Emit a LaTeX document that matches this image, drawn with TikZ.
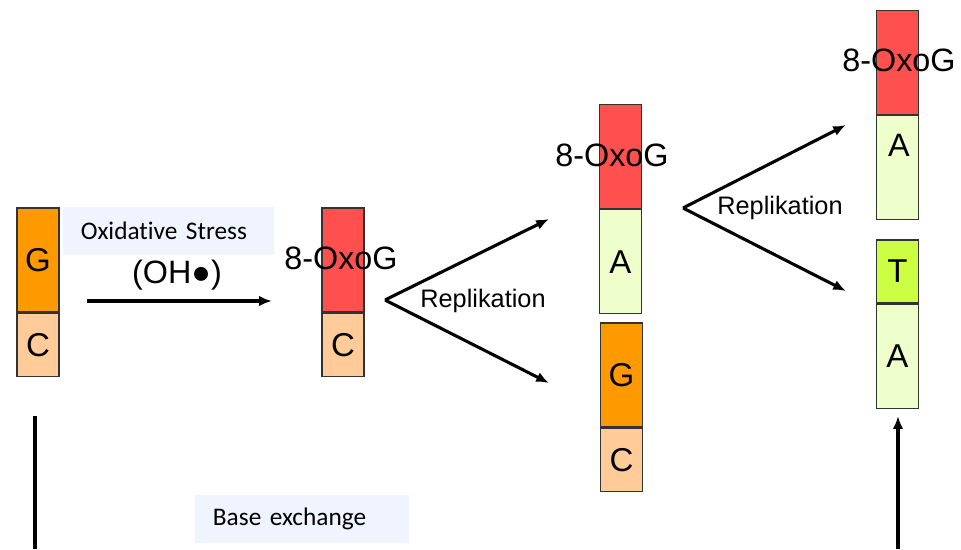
\documentclass[tikz,border=0pt]{standalone}
\usepackage{fontspec}
\setmainfont{Liberation Sans}
\newfontfamily\notefont[Ligatures=NoCommon]{Carlito}
\usetikzlibrary{arrows.meta,positioning}

\definecolor{gorange}{HTML}{FF9900}
\definecolor{corange}{HTML}{FFCC99}
\definecolor{oxored}{HTML}{FF5050}
\definecolor{agreen}{HTML}{EEFFCC}
\definecolor{tgreen}{HTML}{CCFF44}
\definecolor{notebg}{HTML}{F0F4FF}

\begin{document}
\begin{tikzpicture}[
                        x=0.025cm, y=-0.025cm,
                        >={Latex[length=0.32cm,width=0.26cm]},
                        base/.style={rectangle, draw=black!80, line width=0.8pt, minimum width=1.05cm, inner sep=0pt, font=\fontsize{23.5}{26}\selectfont},
                        tall/.style={base, minimum height=2.6cm, fill=#1},
                        short/.style={base, minimum height=1.575cm, fill=#1},
                        big/.style={font=\fontsize{23}{26}\selectfont, inner sep=0pt},
                        lab/.style={font=\fontsize{18}{20}\selectfont, inner sep=0pt},
                        note/.style={fill=notebg, inner xsep=0.45cm, inner ysep=0pt, minimum height=1.2cm, align=left, font=\notefont\fontsize{18}{21}\selectfont},
                        flow/.style={line width=2.2pt}
                    ]
                    \useasboundingbox (0,0) rectangle (961,549);

                    % Blocks
                    \node [tall=gorange] (g1) at (38,260) {G};
                    \node [short=corange, below=0pt of g1] (c1) {C};

                    \node [tall=oxored] (o2) at (343,260) {};
                    \node [short=corange, below=0pt of o2] (c2) {C};

                    \node [tall=oxored] (o3) at (620.5,156.5) {};
                    \node [tall=agreen, below=0pt of o3] (a3) {A};

                    \node [tall=gorange] (g4) at (621.5,375) {G};
                    \node [short=corange, below=0pt of g4] (c4) {C};

                    \node [tall=oxored] (o5) at (897.5,62.5) {};
                    \node [tall=agreen, below=0pt of o5] (a5) {};
                    \node [big] (a5text) at (899,145) {A};

                    \node [short=tgreen] (t6) at (897.5,271.5) {T};
                    \node [tall=agreen, below=0pt of t6] (a6) {A};

                    % Labels
                    \node [big] (oxo2) at (341,258) {8-OxoG};
                    \node [big] (oxo3) at (612,155) {8-OxoG};
                    \node [big] (oxo5) at (899,60) {8-OxoG};
                    \node [note, text width=4.38cm] (stress) at (168.5,231) {Oxidative Stress};
                    \node [big] (oh) at (177,275) {(OH●)};
                    \node [lab] (rep1) at (483,301) {Replikation};
                    \node [lab] (rep2) at (780,208) {Replikation};
                    \node [note, text width=4.45cm] (exchange) at (302,518.5) {Base exchange};

                    % Points
                    \coordinate (ohstart) at (87,301);
                    \coordinate (ohend) at (272,301);
                    \coordinate (fork1) at (385,300);
                    \coordinate (up1) at (549,219);
                    \coordinate (down1) at (549,383);
                    \coordinate (fork2) at (683,208);
                    \coordinate (up2) at (846,125);
                    \coordinate (down2) at (846,291);
                    \coordinate (leftbottom) at (35,549);
                    \coordinate (lefttop) at (35,416);
                    \coordinate (rightbottom) at (898,549);
                    \coordinate (righttop) at (898,416);

                    % Connections
                    \draw [flow,->] (ohstart) -- (ohend);
                    \draw [flow,->] (fork1) -- (up1);
                    \draw [flow,->] (fork1) -- (down1);
                    \draw [flow,->] (fork2) -- (up2);
                    \draw [flow,->] (fork2) -- (down2);
                    \draw [flow] (lefttop) -- (leftbottom);
                    \draw [flow,->] (rightbottom) -- (righttop);
                \end{tikzpicture}
\end{document}
